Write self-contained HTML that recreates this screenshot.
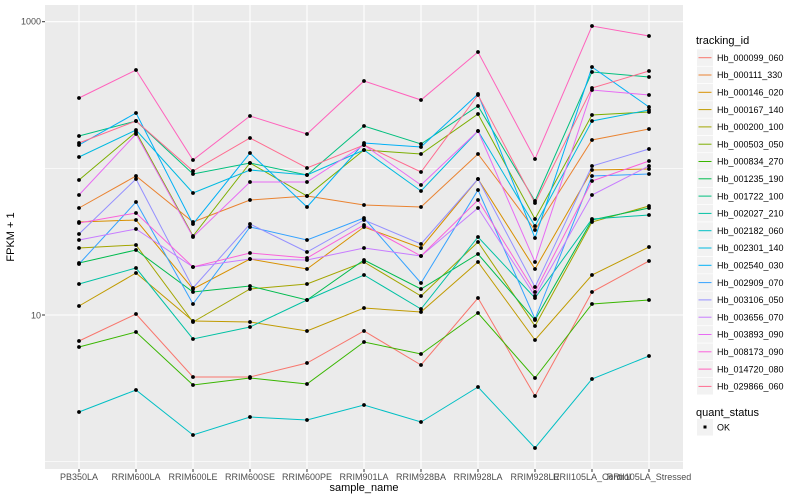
<!DOCTYPE html>
<html><head><meta charset="utf-8"><style>
body{margin:0;background:#fff;}
svg{display:block;font-family:"Liberation Sans",sans-serif;}
</style></head><body>
<svg id="s" width="800" height="500" xmlns="http://www.w3.org/2000/svg">
<rect x="0" y="0" width="800" height="500" fill="#fff"/>
<rect x="45" y="5" width="638" height="464" fill="#EBEBEB"/>
<g id="grid"></g>
<g id="lines"></g>
<g id="pts"></g>
<g id="axes" fill="#4D4D4D" font-size="9">
<text x="41" y="24.5" text-anchor="end">1000</text>
<text x="41" y="318.5" text-anchor="end">10</text>
<line x1="42" y1="21.7" x2="45" y2="21.7" stroke="#333"/>
<line x1="42" y1="315" x2="45" y2="315" stroke="#333"/>
</g>
<text x="364" y="491" font-size="11" text-anchor="middle" fill="#000">sample_name</text>
<text x="14" y="237" font-size="11" text-anchor="middle" fill="#000" transform="rotate(-90 14 237)">FPKM + 1</text>
<g id="legend"></g>
</svg>
<script>
var ns="http://www.w3.org/2000/svg";
function el(p,t,a,txt){var e=document.createElementNS(ns,t);for(var k in a)e.setAttribute(k,a[k]);if(txt!=null)e.textContent=txt;document.getElementById(p).appendChild(e);return e;}
var xs=[];for(var i=0;i<11;i++)xs.push(79+57*i);
var labels=["PB350LA","RRIM600LA","RRIM600LE","RRIM600SE","RRIM600PE","RRIM901LA","RRIM928BA","RRIM928LA","RRIM928LE","RRII105LA_Control","RRII105LA_Stressed"];
// grid
[168.3,461.7].forEach(function(y){el("grid","line",{x1:45,x2:683,y1:y,y2:y,stroke:"#fff","stroke-width":0.6});});
[21.7,315].forEach(function(y){el("grid","line",{x1:45,x2:683,y1:y,y2:y,stroke:"#fff","stroke-width":1.1});});
xs.forEach(function(x,i){el("grid","line",{x1:x,x2:x,y1:5,y2:469,stroke:"#fff","stroke-width":1.1});
el("axes","line",{x1:x,x2:x,y1:469,y2:472,stroke:"#333"});
el("axes","text",{x:x,y:480,"text-anchor":"middle"},labels[i]);});
var S=[
["#F8766D",[341,314,377,377,363,331,365,298,396,292,261]],
["#EA8331",[208,176,222,200,196,205,207,154,230,140,129]],
["#D89000",[222,220,289,259,269,227,248,179,269,170,169]],
["#C09B00",[306,273,321,322,331,308,312,262,340,275,247]],
["#A3A500",[248,245,322,289,284,262,296,242,326,222,206]],
["#7CAE00",[180,132,236,163,196,150,154,114,219,115,112]],
["#39B600",[347,332,385,378,384,342,354,313,378,304,300]],
["#00BB4E",[263,250,292,286,300,260,289,254,320,220,208]],
["#00BF7D",[136,121,174,163,175,126,144,106,201,72,77]],
["#00C1A3",[284,268,339,327,300,275,309,237,298,219,215]],
["#00BFC4",[412,390,435,417,420,405,422,387,448,379,356]],
["#00BAE0",[157,130,193,170,175,150,191,131,226,121,110]],
["#00B0F6",[145,113,224,153,207,143,147,94,238,67,107]],
["#35A2FF",[264,202,304,227,240,218,283,190,319,176,174]],
["#9590FF",[234,179,288,224,252,220,244,179,287,166,149]],
["#C77CFF",[240,229,267,259,260,248,256,208,296,195,166]],
["#E76BF3",[195,134,237,182,182,145,185,131,262,90,95]],
["#FA62DB",[223,213,267,253,258,225,256,200,292,181,161]],
["#FF62BC",[98,70,160,116,134,81,100,52,159,26,36]],
["#FF6C90",[143,121,171,138,168,145,172,95,203,88,71]]];
var names=["Hb_000099_060","Hb_000111_330","Hb_000146_020","Hb_000167_140","Hb_000200_100","Hb_000503_050","Hb_000834_270","Hb_001235_190","Hb_001722_100","Hb_002027_210","Hb_002182_060","Hb_002301_140","Hb_002540_030","Hb_002909_070","Hb_003106_050","Hb_003656_070","Hb_003893_090","Hb_008173_090","Hb_014720_080","Hb_029866_060"];
S.forEach(function(s){var d="";s[1].forEach(function(y,i){d+=(i?"L":"M")+xs[i]+" "+y;el("pts","circle",{cx:xs[i],cy:y,r:1.9,fill:"#000"});});
el("lines","path",{d:d,fill:"none",stroke:s[0],"stroke-width":1});});
// legend
el("legend","text",{x:696,y:44,"font-size":11},"tracking_id");
S.forEach(function(s,i){var cy=57.7+17.3*i;
el("legend","rect",{x:697,y:cy-8.4,width:16,height:16.6,fill:"#F2F2F2"});
el("legend","line",{x1:698.5,x2:711.5,y1:cy,y2:cy,stroke:s[0],"stroke-width":1});
el("legend","text",{x:717,y:cy+3.2,"font-size":9,fill:"#000"},names[i]);});
el("legend","text",{x:696,y:416,"font-size":11},"quant_status");
el("legend","rect",{x:697,y:419,width:16,height:16.6,fill:"#F2F2F2"});
el("legend","rect",{x:703.5,y:425.5,width:3,height:3,fill:"#000"});
el("legend","text",{x:717,y:430.5,"font-size":9},"OK");
</script>
</body></html>
